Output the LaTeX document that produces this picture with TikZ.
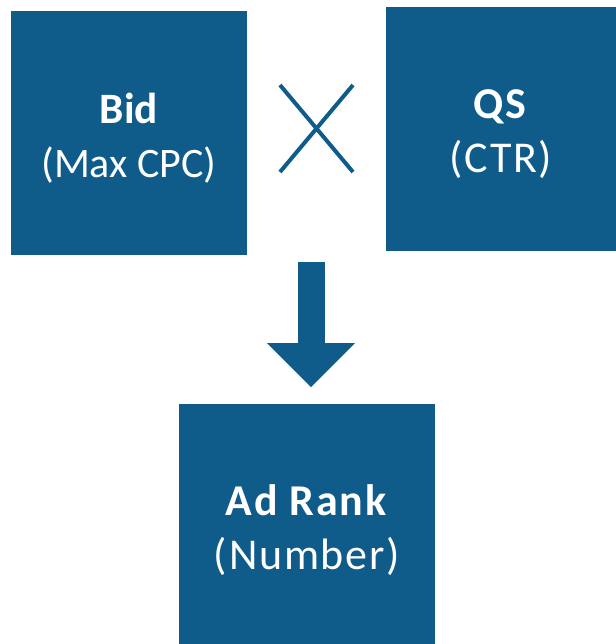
\documentclass[tikz,border=0pt]{standalone}
\usepackage{fontspec}
\setmainfont{Carlito}
\newfontfamily\widefont[LetterSpace=4.0]{Carlito}
\usetikzlibrary{arrows.meta}
\definecolor{adblue}{RGB}{15,91,138}
\tikzset{
  every picture/.style={
    x=0.75pt, y=-0.75pt
  },
  block/.style={
    rectangle, fill=adblue, text=white,
    align=center, inner sep=0pt,
    font=\widefont\fontsize{33}{40.5}\selectfont
  },
  fat arrow/.style={
    adblue, line width=20.25pt,
    -{Triangle[width=66pt, length=33pt, line width=0pt]}
  }
}

\begin{document}
\begin{tikzpicture}[
      times/.style={adblue, line width=3pt}
    ]
      \useasboundingbox (0,0) rectangle (616,644);
      \node [block, minimum width=177pt, minimum height=183pt] (bid) at (129,133) {};
      \node [block, minimum width=172.5pt, minimum height=183pt] (qs) at (501,129) {};
      \node [block, minimum width=192pt, minimum height=180pt] (rank) at (307,524) {};
      \node [block, font=\fontsize{31.5}{40.5}\selectfont] (bidtext) at ([yshift=-4pt]bid.center)
        {{\fontsize{32.5}{40.5}\selectfont\bfseries Bid}\\(Max CPC)};
      \node [block] (qstext) at ([yshift=-4pt]qs.center) {\textbf{QS}\\(CTR)};
      \node [block] (ranktext) at ([yshift=-4.5pt]rank.center) {\textbf{Ad Rank}\\(Number)};
      % multiplication sign
      \coordinate (mul) at (316.5,128.5);
      \draw [times] ([shift={(-36.5,-43.5)}]mul) -- ([shift={(36.5,43.5)}]mul);
      \draw [times] ([shift={(-36.5,43.5)}]mul) -- ([shift={(36.5,-43.5)}]mul);
      % result arrow
      \coordinate (arrtop) at (311,262);
      \coordinate (arrtip) at (311,387);
      \draw [fat arrow] (arrtop) -- (arrtip);
    \end{tikzpicture}
\end{document}
